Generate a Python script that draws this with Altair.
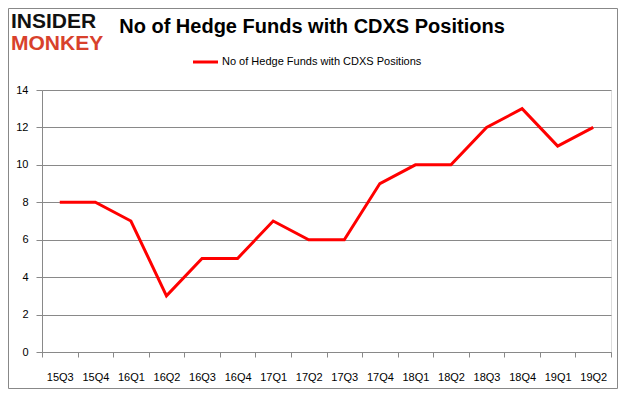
import altair as alt
import pandas as pd

quarters = ["15Q3", "15Q4", "16Q1", "16Q2", "16Q3", "16Q4", "17Q1", "17Q2",
            "17Q3", "17Q4", "18Q1", "18Q2", "18Q3", "18Q4", "19Q1", "19Q2"]
funds = [8, 8, 7, 3, 5, 5, 7, 6, 6, 9, 10, 10, 12, 13, 11, 12]
series_name = "No of Hedge Funds with CDXS Positions"
title_text = "No of Hedge Funds with CDXS Positions"

df = pd.DataFrame({"q": quarters, "v": funds})
one = pd.DataFrame({"k": [0]})

W, H = 569, 262

xenc = alt.X("q:N", sort=quarters, bandPosition=0.5,
             scale=alt.Scale(type="band", paddingInner=0, paddingOuter=0),
             axis=alt.Axis(title=None, labelAngle=0, tickBand="extent", grid=False,
                           domainColor="#898989", tickColor="#898989", tickSize=5,
                           labelPadding=14, labelFontSize=11, labelColor="#000000",
                           labelFont="Liberation Sans"))
yenc = alt.Y("v:Q", scale=alt.Scale(domain=[0, 14]),
             axis=alt.Axis(title=None, values=list(range(0, 15, 2)), grid=True,
                           gridColor="#898989", domainColor="#898989", tickColor="#898989",
                           tickSize=6, labelPadding=8, labelFontSize=11, labelColor="#000000",
                           labelFont="Liberation Sans"))

line = alt.Chart(df).mark_line(color="#ff0000", strokeWidth=3).encode(x=xenc, y=yenc)

border = alt.Chart(one).mark_rect(fill=None, stroke="#888888", strokeWidth=1).encode(
    x=alt.value(-33.5), x2=alt.value(W + 6.5), y=alt.value(-81.5), y2=alt.value(H + 36.5))

logo1 = alt.Chart(one).mark_text(text="INSIDER", align="left", baseline="alphabetic",
                                 font="Liberation Sans", fontWeight="bold", fontSize=21,
                                 color="#111111").encode(x=alt.value(-31), y=alt.value(-62))
logo2 = alt.Chart(one).mark_text(text="MONKEY", align="left", baseline="alphabetic",
                                 font="Liberation Sans", fontWeight="bold", fontSize=21,
                                 color="#d8412c").encode(x=alt.value(-31), y=alt.value(-40))
title = alt.Chart(one).mark_text(text=title_text, align="center", baseline="alphabetic",
                                 font="Liberation Sans", fontWeight="bold", fontSize=20,
                                 color="#000000").encode(x=alt.value(270), y=alt.value(-57))
leg_line = alt.Chart(one).mark_rule(color="#ff0000", strokeWidth=3).encode(
    x=alt.value(151), x2=alt.value(176), y=alt.value(-28))
leg_text = alt.Chart(one).mark_text(text=series_name, align="left", baseline="middle",
                                    font="Liberation Sans", fontSize=11,
                                    color="#000000").encode(x=alt.value(180), y=alt.value(-28))

chart = alt.layer(border, line, logo1, logo2, title, leg_line, leg_text).properties(
    width=W, height=H,
    autosize=alt.AutoSizeParams(type="none"),
    padding={"left": 34, "top": 82, "right": 7, "bottom": 37},
).configure_view(stroke=None).configure(background="white")

chart.save("out.html", embed_options={"renderer": "svg", "actions": False})
